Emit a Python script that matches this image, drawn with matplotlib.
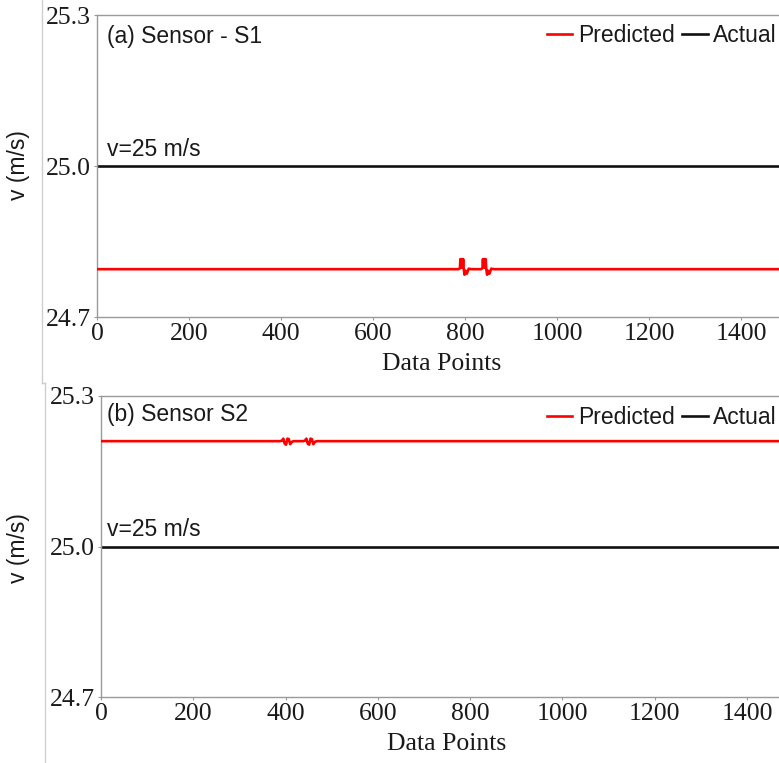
import matplotlib
matplotlib.use("Agg")
import matplotlib.pyplot as plt
from matplotlib.lines import Line2D

# ---------------- data ----------------
actual_x = [0, 1500]
actual_a = [25.0, 25.0]
actual_b = [25.0, 25.0]

pred_a_x = [0, 786, 789, 790, 791, 792, 793, 794, 795, 796, 797, 799, 801, 804, 808, 814,
            835, 838, 839, 840, 841, 842, 843, 844, 845, 846, 848, 850, 853, 857, 863, 1500]
pred_a_y = [24.795, 24.795, 24.797, 24.815, 24.800, 24.815, 24.798, 24.815, 24.800, 24.815,
            24.797, 24.784, 24.792, 24.786, 24.796, 24.795,
            24.795, 24.797, 24.815, 24.800, 24.815, 24.798, 24.815, 24.800, 24.815,
            24.797, 24.784, 24.792, 24.786, 24.796, 24.795, 24.795]

pred_b_x = [0, 388, 392, 395, 398, 401, 404, 407, 410, 414, 418,
            438, 442, 445, 448, 451, 454, 457, 460, 464, 468, 1500]
pred_b_y = [25.21, 25.21, 25.211, 25.215, 25.205, 25.203, 25.215, 25.214, 25.204, 25.209, 25.21,
            25.21, 25.211, 25.215, 25.205, 25.203, 25.215, 25.214, 25.204, 25.209, 25.21, 25.21]

x_ticks = [0, 200, 400, 600, 800, 1000, 1200, 1400]
y_ticks = [24.7, 25.0, 25.3]
y_ticklabels = ["24.7", "25.0", "25.3"]

panel_titles = ["(a) Sensor - S1", "(b) Sensor S2"]
ref_label = "v=25 m/s"

# ---------------- figure ----------------
W, H = 779, 763
fig = plt.figure(figsize=(W / 100, H / 100), dpi=100)

SERIF = "Liberation Serif"
SANS = "Liberation Sans"
spine_col = "#9a9a9a"
txt_col = "#1a1a1a"

# axes geometry in pixels: (left, top, bottom, px per 200 units)
geoms = [(97, 15, 317, 92.0), (101, 396, 697, 92.3)]
preds = [(pred_a_x, pred_a_y), (pred_b_x, pred_b_y)]
actuals = [actual_a, actual_b]
title_y = [36, 415]
legend_y = [36, 418]
xlabel_y = [364, 744]
ylabel_y = [165, 548]

for i, (left, top, bottom, p200) in enumerate(geoms):
    width_px = 7.5 * p200
    ax = fig.add_axes([left / W, (H - bottom) / H, width_px / W, (bottom - top) / H])
    px, py = preds[i]
    ax.plot(px, py, color="#ff0000", lw=1.9, label="Predicted", zorder=3)
    ax.plot(actual_x, actuals[i], color="#111111", lw=1.9, label="Actual", zorder=2)
    ax.set_xlim(0, 1500)
    ax.set_ylim(24.7, 25.3)
    ax.set_xticks(x_ticks)
    ax.set_yticks(y_ticks)
    ax.set_yticklabels(y_ticklabels)
    for s in ["left", "top", "bottom"]:
        ax.spines[s].set_color(spine_col)
        ax.spines[s].set_linewidth(1.0)
    ax.spines["right"].set_visible(False)
    ax.tick_params(axis="both", direction="out", length=2.5, width=0.8,
                   color=spine_col, labelsize=18.5, labelcolor=txt_col, pad=2)
    for lab in ax.get_xticklabels() + ax.get_yticklabels():
        lab.set_fontfamily(SERIF)

    # panel title
    tx = (107 - left) / width_px
    ty = (bottom - title_y[i]) / (bottom - top)
    ax.text(tx, ty, panel_titles[i], transform=ax.transAxes, fontsize=16.5,
            family=SANS, color=txt_col, ha="left", va="center")
    # reference label
    ax.annotate(ref_label, xy=(0, 25.0), xytext=((107 - left) * 0.72, 7.5),
                textcoords="offset points", fontsize=16.5, family=SANS,
                color=txt_col, ha="left", va="baseline")

    # legend at right edge of figure
    leg = ax.legend(loc="center right",
                    bbox_to_anchor=((W - 2) / W, (H - legend_y[i]) / H),
                    bbox_transform=fig.transFigure, ncol=2, frameon=False,
                    prop={"family": SANS, "size": 16.5}, handlelength=1.1,
                    handletextpad=0.25, columnspacing=0.35, borderpad=0,
                    borderaxespad=0)
    for t in leg.get_texts():
        t.set_color(txt_col)

    # axis labels
    fig.text((left + width_px / 2) / W, (H - xlabel_y[i]) / H, "Data Points",
             family=SERIF, fontsize=18.5, color=txt_col, ha="center", va="center")
    fig.text(18 / W, (H - ylabel_y[i]) / H, "v (m/s)", family=SANS, fontsize=16.5,
             color=txt_col, ha="center", va="center", rotation=90)

# light image-border lines
border = "#cfcfcf"
fig.add_artist(Line2D([42 / W, 42 / W], [1.0, (H - 383) / H], color=border, lw=1.0, transform=fig.transFigure))
fig.add_artist(Line2D([42 / W, 45 / W], [(H - 383) / H, (H - 383) / H], color=border, lw=1.0, transform=fig.transFigure))
fig.add_artist(Line2D([45 / W, 45 / W], [(H - 383) / H, 0.0], color=border, lw=1.0, transform=fig.transFigure))

fig.savefig("out.png", dpi=100)
